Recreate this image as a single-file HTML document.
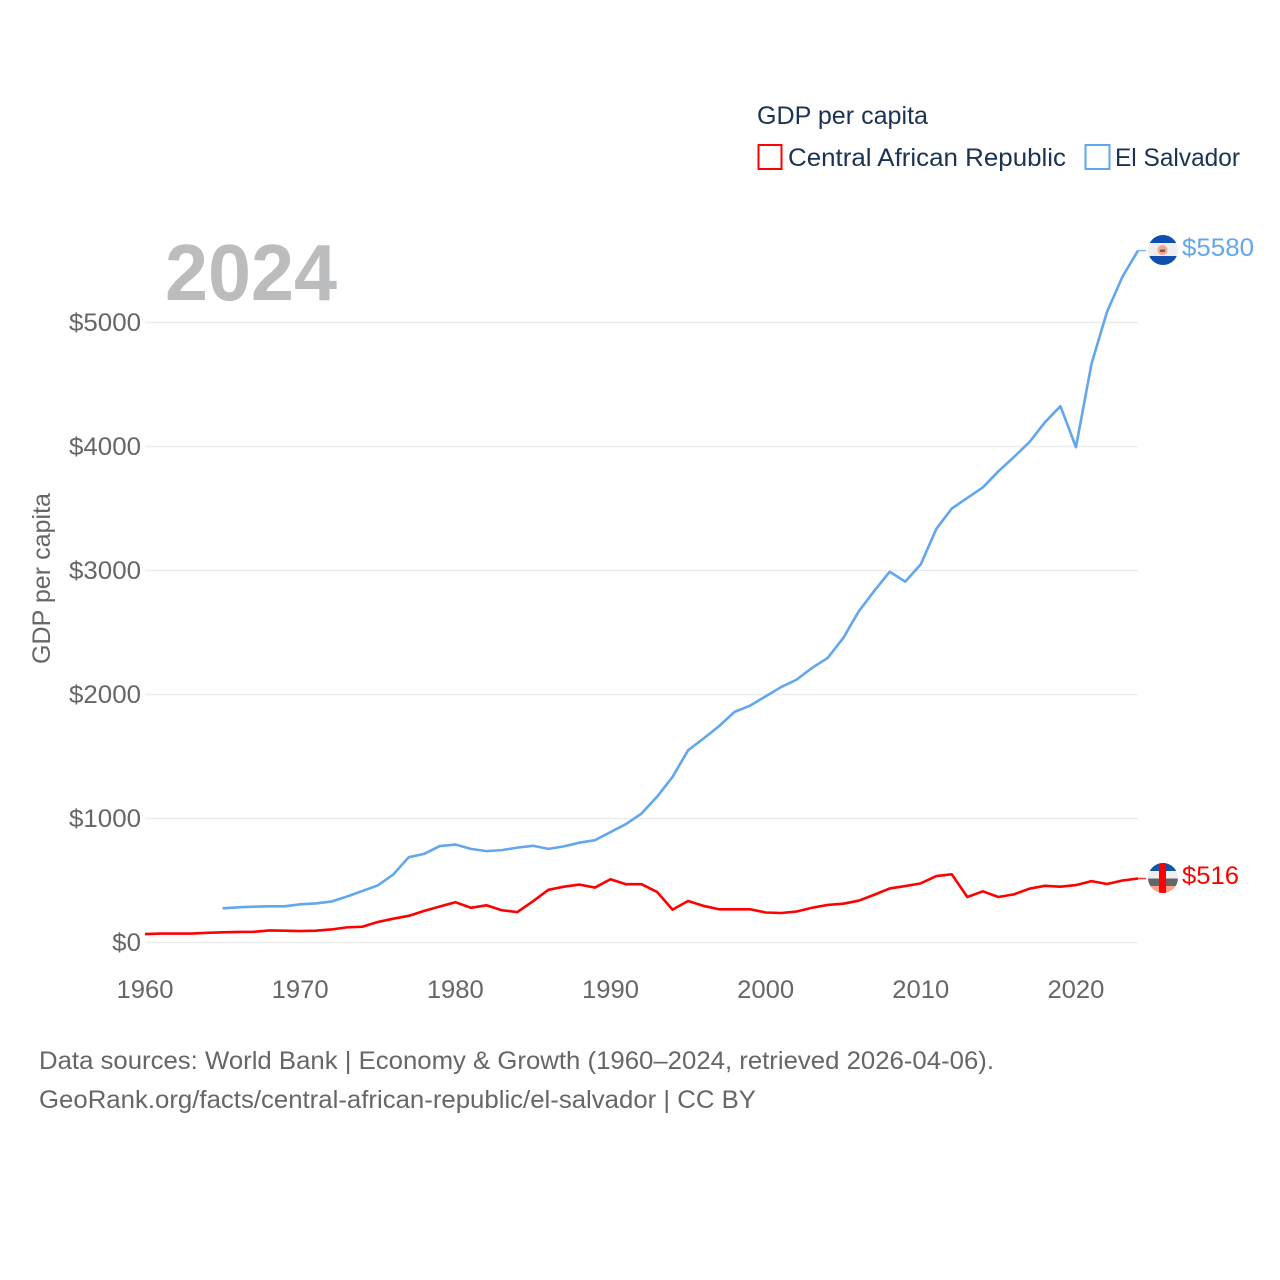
<!DOCTYPE html>
<html lang="en">
<head>
<meta charset="utf-8">
<title>GDP per capita: Central African Republic and El Salvador</title>
<style>
html,body{margin:0;padding:0;background:#fff;}
svg{display:block;}
text{font-family:"Liberation Sans",sans-serif;}
</style>
</head>
<body>
<svg id="chart" width="1280" height="1280" viewBox="0 0 1280 1280" xmlns="http://www.w3.org/2000/svg">
  <rect x="0" y="0" width="1280" height="1280" fill="#fff"/>
  <defs>
    <clipPath id="flag-clip-es"><circle cx="1163" cy="250" r="15"/></clipPath>
    <clipPath id="flag-clip-car"><circle cx="1163" cy="878" r="15"/></clipPath>
  </defs>
  <g id="grid"></g>
  <g id="y-axis"></g>
  <g id="x-axis"></g>
  <text x="165" y="300" font-size="80" font-weight="700" fill="#bbbcbe" textLength="172" lengthAdjust="spacingAndGlyphs">2024</text>
  <text transform="translate(50,664) rotate(-90)" font-size="25" fill="#666" textLength="171" lengthAdjust="spacingAndGlyphs">GDP per capita</text>
  <g id="series"></g>
  <g id="flag-es" clip-path="url(#flag-clip-es)">
    <rect x="1148" y="235" width="30" height="30" fill="#eeeeee"/>
    <rect x="1148" y="235" width="30" height="8" fill="#0f4fae"/>
    <rect x="1148" y="256" width="30" height="9" fill="#0f4fae"/>
    <circle cx="1162.500" cy="250" r="5" fill="#f5a58c"/>
    <rect x="1160" y="249.500" width="5" height="2.500" fill="#666"/>
  </g>
  <g id="flag-car" clip-path="url(#flag-clip-car)">
    <rect x="1148" y="863" width="30" height="8" fill="#1256a8"/>
    <rect x="1148" y="871" width="30" height="7.500" fill="#eeeeee"/>
    <rect x="1148" y="878.500" width="30" height="7.500" fill="#666666"/>
    <rect x="1148" y="886" width="30" height="7" fill="#ffa08a"/>
    <rect x="1159" y="863" width="7" height="30" fill="#ff0000"/>
  </g>
  <g id="end-labels"></g>

  <text x="757" y="124" font-size="25" fill="#1a3354" textLength="171" lengthAdjust="spacingAndGlyphs">GDP per capita</text>
  <rect x="758.500" y="145" width="23" height="24" fill="none" stroke="#ff0000" stroke-width="2"/>
  <text x="788" y="166" font-size="25" fill="#1a3354" textLength="278" lengthAdjust="spacingAndGlyphs">Central African Republic</text>
  <rect x="1085.500" y="145" width="24" height="24" fill="none" stroke="#62a6ee" stroke-width="2"/>
  <text x="1115" y="166" font-size="25" fill="#1a3354" textLength="125" lengthAdjust="spacingAndGlyphs">El Salvador</text>

  <text x="39" y="1069" font-size="25" fill="#666" textLength="955" lengthAdjust="spacingAndGlyphs">Data sources: World Bank | Economy &amp; Growth (1960–2024, retrieved 2026-04-06).</text>
  <text x="39" y="1108" font-size="25" fill="#666" textLength="717" lengthAdjust="spacingAndGlyphs">GeoRank.org/facts/central-african-republic/el-salvador | CC BY</text>
</svg>
<script>
const years = [1960,1961,1962,1963,1964,1965,1966,1967,1968,1969,1970,1971,1972,1973,1974,1975,1976,1977,1978,1979,1980,1981,1982,1983,1984,1985,1986,1987,1988,1989,1990,1991,1992,1993,1994,1995,1996,1997,1998,1999,2000,2001,2002,2003,2004,2005,2006,2007,2008,2009,2010,2011,2012,2013,2014,2015,2016,2017,2018,2019,2020,2021,2022,2023,2024];
const carValues = [68,72,72,72,78,82,85,86,97,95,92,95,105,122,127,165,192,215,255,290,325,280,300,260,245,332,425,450,467,443,510,470,470,408,265,335,295,268,268,268,242,238,250,280,303,313,337,385,436,455,477,536,550,367,413,367,388,434,457,450,463,495,472,500,516];
const esValues = [null,null,null,null,null,276,284,289,292,292,308,315,330,370,415,460,548,688,715,778,790,755,737,745,765,780,755,775,805,825,890,955,1040,1175,1335,1550,1645,1745,1860,1910,1985,2060,2120,2215,2295,2455,2670,2835,2990,2910,3050,3335,3500,3585,3670,3800,3915,4035,4195,4325,3995,4665,5085,5370,5580];
const yTickValues = [0,1000,2000,3000,4000,5000];
const yTickLabels = ["$0","$1000","$2000","$3000","$4000","$5000"];
const xTickValues = [1960,1970,1980,1990,2000,2010,2020];
const xTickLabels = ["1960","1970","1980","1990","2000","2010","2020"];

const NS = "http://www.w3.org/2000/svg";
const xMin = 1960, xMax = 2024, plotLeft = 145, plotRight = 1138;
const yZero = 942.5, yFive = 322.5;
function xScale(v){ return plotLeft + (v - xMin) / (xMax - xMin) * (plotRight - plotLeft); }
function yScale(v){ return yZero - v / 5000 * (yZero - yFive); }
function make(tag, parent, attrs){
  const el = document.createElementNS(NS, tag);
  for (const k in attrs) el.setAttribute(k, attrs[k]);
  parent.appendChild(el);
  return el;
}
function linePath(values){
  let d = "";
  values.forEach(function(v, i){
    if (v === null) return;
    d += (d ? "L" : "M") + xScale(years[i]).toFixed(2) + " " + yScale(v).toFixed(2);
  });
  return d;
}

const grid = document.getElementById("grid");
const yAxis = document.getElementById("y-axis");
const xAxis = document.getElementById("x-axis");
const series = document.getElementById("series");
const endLabels = document.getElementById("end-labels");

yTickValues.forEach(function(v, i){
  const gl = make("line", grid, {x1: plotLeft, x2: plotRight, y1: yScale(v), y2: yScale(v), stroke: "#ececec", "stroke-width": 1.5});
  
  
  const label = yTickLabels[i];
  const t = make("text", yAxis, {x: 141, y: yScale(v) + 8.5, "text-anchor": "end", "font-size": 25, fill: "#666", textLength: label.length * 14.4, lengthAdjust: "spacingAndGlyphs"});
  t.textContent = label;
  
  
});

xTickValues.forEach(function(v, i){
  const t = make("text", xAxis, {x: xScale(v), y: 998, "text-anchor": "middle", "font-size": 25, fill: "#666", textLength: 57, lengthAdjust: "spacingAndGlyphs"});
  t.textContent = xTickLabels[i];
  
  
});

function drawSeries(values, color, name, labelWidth){
  const p = make("path", series, {d: linePath(values), fill: "none", stroke: color, "stroke-width": 2.6, "stroke-linejoin": "round"});
  
  
  const last = values[values.length - 1];
  const tail = make("line", series, {x1: plotRight, x2: plotRight + 8, y1: yScale(last), y2: yScale(last), stroke: color, "stroke-width": 1.5, opacity: 0.8});
  
  
  const t = make("text", endLabels, {x: 1182, y: yScale(last) + 5.5, "font-size": 25, fill: color, textLength: labelWidth, lengthAdjust: "spacingAndGlyphs"});
  t.textContent = "$" + last;
  
  
}
drawSeries(carValues, "#ff0000", "central-african-republic", 57);
drawSeries(esValues, "#62a6ee", "el-salvador", 72);
</script>
</body>
</html>
